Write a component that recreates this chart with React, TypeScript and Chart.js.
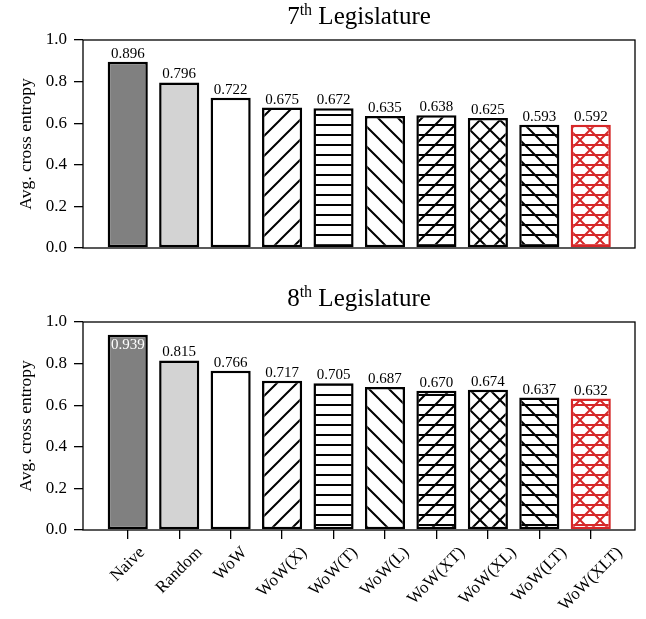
import React, { useEffect, useRef } from "react";
import { Chart, registerables } from "chart.js";

Chart.register(...registerables);

const categories = ["Naive", "Random", "WoW", "WoW(X)", "WoW(T)", "WoW(L)", "WoW(XT)", "WoW(XL)", "WoW(LT)", "WoW(XLT)"];
const values7 = [0.896, 0.796, 0.722, 0.675, 0.672, 0.635, 0.638, 0.625, 0.593, 0.592];
const values8 = [0.939, 0.815, 0.766, 0.717, 0.705, 0.687, 0.670, 0.674, 0.637, 0.632];
const yTicks = [0, 0.2, 0.4, 0.6, 0.8, 1.0];
const hatches = ["", "", "", "/", "-", "\\", "/-", "x", "\\-", "x-"];
const fills = ["#808080", "#d3d3d3", "#ffffff", "#ffffff", "#ffffff", "#ffffff", "#ffffff", "#ffffff", "#ffffff", "#ffffff"];
const edges = ["#000000", "#000000", "#000000", "#000000", "#000000", "#000000", "#000000", "#000000", "#000000", "#d62728"];
const yTitle = "Avg. cross entropy";

const FONT = "'Liberation Serif', 'DejaVu Serif', serif";

function makeFill(hatch: string, fill: string, color: string): any {
  if (!hatch) return fill;
  const c = document.createElement("canvas");
  c.width = 20;
  c.height = 20;
  const g = c.getContext("2d")!;
  g.fillStyle = fill;
  g.fillRect(0, 0, 20, 20);
  g.strokeStyle = color;
  g.lineWidth = 2;
  g.lineCap = "butt";
  g.beginPath();
  if (hatch.includes("/") || hatch.includes("x")) {
    for (const o of [-20, 0, 20]) {
      g.moveTo(o - 2, 22);
      g.lineTo(o + 22, -2);
    }
  }
  if (hatch.includes("\\") || hatch.includes("x")) {
    for (const o of [-20, 0, 20]) {
      g.moveTo(o - 2, -2);
      g.lineTo(o + 22, 22);
    }
  }
  if (hatch.includes("-")) {
    for (const y of [5, 15]) {
      g.moveTo(-1, y);
      g.lineTo(21, y);
    }
  }
  g.stroke();
  return g.createPattern(c, "repeat");
}

const decorPlugin = {
  id: "decor",
  afterDatasetsDraw(chart: any, _args: any, opts: any) {
    const ctx = chart.ctx;
    const area = chart.chartArea;
    ctx.save();
    // value labels
    const meta = chart.getDatasetMeta(0);
    const vals: number[] = chart.data.datasets[0].data.map((d: any) => d.y);
    ctx.font = `15px ${FONT}`;
    ctx.textAlign = "center";
    ctx.textBaseline = "alphabetic";
    meta.data.forEach((el: any, i: number) => {
      const txt = vals[i].toFixed(3);
      let y = el.y - 4;
      let color = "#000";
      if (y - 11 < area.top) {
        y = el.y + 14;
        color = "#ffffff";
      }
      ctx.fillStyle = color;
      ctx.fillText(txt, el.x, y);
    });
    // frame
    ctx.strokeStyle = "#000";
    ctx.lineWidth = 1.3;
    ctx.strokeRect(area.left, area.top, area.right - area.left, area.bottom - area.top);
    ctx.restore();
  },
  afterDraw(chart: any, _args: any, opts: any) {
    const ctx = chart.ctx;
    const area = chart.chartArea;
    ctx.save();
    ctx.fillStyle = "#000";
    // title
    const cx = (area.left + area.right) / 2;
    const big = `25px ${FONT}`;
    const small = `16px ${FONT}`;
    ctx.font = big;
    const w1 = ctx.measureText(opts.num).width;
    const w3 = ctx.measureText(" Legislature").width;
    ctx.font = small;
    const w2 = ctx.measureText("th").width;
    let x = cx - (w1 + w2 + w3) / 2;
    const base = area.top - 16;
    ctx.textAlign = "left";
    ctx.textBaseline = "alphabetic";
    ctx.font = big;
    ctx.fillText(opts.num, x, base);
    x += w1;
    ctx.font = small;
    ctx.fillText("th", x, base - 9);
    x += w2;
    ctx.font = big;
    ctx.fillText(" Legislature", x, base);
    // y title
    ctx.save();
    ctx.translate(26, (area.top + area.bottom) / 2);
    ctx.rotate(-Math.PI / 2);
    ctx.font = `17.5px ${FONT}`;
    ctx.textAlign = "center";
    ctx.textBaseline = "middle";
    ctx.fillText(yTitle, 0, 0);
    ctx.restore();
    // x labels
    if (opts.xLabels) {
      const xs = chart.scales.x;
      ctx.font = `17px ${FONT}`;
      const h = 17;
      const y0 = area.bottom + 9 + 5;
      categories.forEach((lab, i) => {
        const px = xs.getPixelForValue(i);
        const w = ctx.measureText(lab).width;
        const bh = (w + h) / Math.SQRT2;
        ctx.save();
        ctx.translate(px, y0 + bh / 2);
        ctx.rotate(-Math.PI / 4);
        ctx.textAlign = "center";
        ctx.textBaseline = "middle";
        ctx.fillText(lab, 0, 0);
        ctx.restore();
      });
    }
    ctx.restore();
  },
};

function buildConfig(values: number[], num: string, bottom: boolean, topPad: number, xHeight: number): any {
  return {
    type: "bar",
    data: {
      datasets: [
        {
          data: values.map((v, i) => ({ x: i, y: v })),
          backgroundColor: hatches.map((h, i) => makeFill(h, fills[i], edges[i])),
          borderColor: edges,
          borderWidth: 2.5,
          borderSkipped: false,
          categoryPercentage: 1,
          barPercentage: 0.78,
        },
      ],
    },
    options: {
      animation: false,
      responsive: false,
      maintainAspectRatio: false,
      events: [],
      layout: { padding: { left: 0, right: 11, top: topPad, bottom: 0 } },
      plugins: {
        legend: { display: false },
        tooltip: { enabled: false },
        title: { display: false },
        decor: { num, xLabels: bottom },
      },
      scales: {
        x: {
          type: "linear",
          min: -0.87,
          max: 9.86,
          offset: false,
          afterBuildTicks: (s: any) => {
            s.ticks = categories.map((_, i) => ({ value: i }));
          },
          afterFit: (s: any) => {
            s.height = xHeight;
          },
          grid: { display: bottom, offset: false, drawOnChartArea: false, drawTicks: true, tickLength: 9, color: "#000", lineWidth: 1.3 },
          border: { display: false },
          ticks: { display: false },
        },
        y: {
          min: 0,
          max: 1,
          afterBuildTicks: (s: any) => {
            s.ticks = yTicks.map((v) => ({ value: v }));
          },
          afterFit: (s: any) => {
            s.width = 83;
          },
          grid: { drawOnChartArea: false, drawTicks: true, tickLength: 9, color: "#000", lineWidth: 1.3 },
          border: { display: false },
          ticks: {
            color: "#000",
            padding: 7,
            font: { family: FONT, size: 17 },
            callback: (v: any) => Number(v).toFixed(1),
          },
        },
      },
    },
    plugins: [decorPlugin],
  };
}

export default function App() {
  const topRef = useRef<HTMLCanvasElement>(null);
  const botRef = useRef<HTMLCanvasElement>(null);
  useEffect(() => {
    const c1 = new Chart(topRef.current!, buildConfig(values7, "7", false, 40, 32));
    const c2 = new Chart(botRef.current!, buildConfig(values8, "8", true, 42, 89));
    return () => {
      c1.destroy();
      c2.destroy();
    };
  }, []);
  return (
    <div style={{ position: "absolute", left: 0, top: 0, width: 646, height: 619, background: "#fff" }}>
      <canvas ref={topRef} width={646} height={280} style={{ display: "block", width: 646, height: 280 }} />
      <canvas ref={botRef} width={646} height={339} style={{ display: "block", width: 646, height: 339 }} />
    </div>
  );
}
